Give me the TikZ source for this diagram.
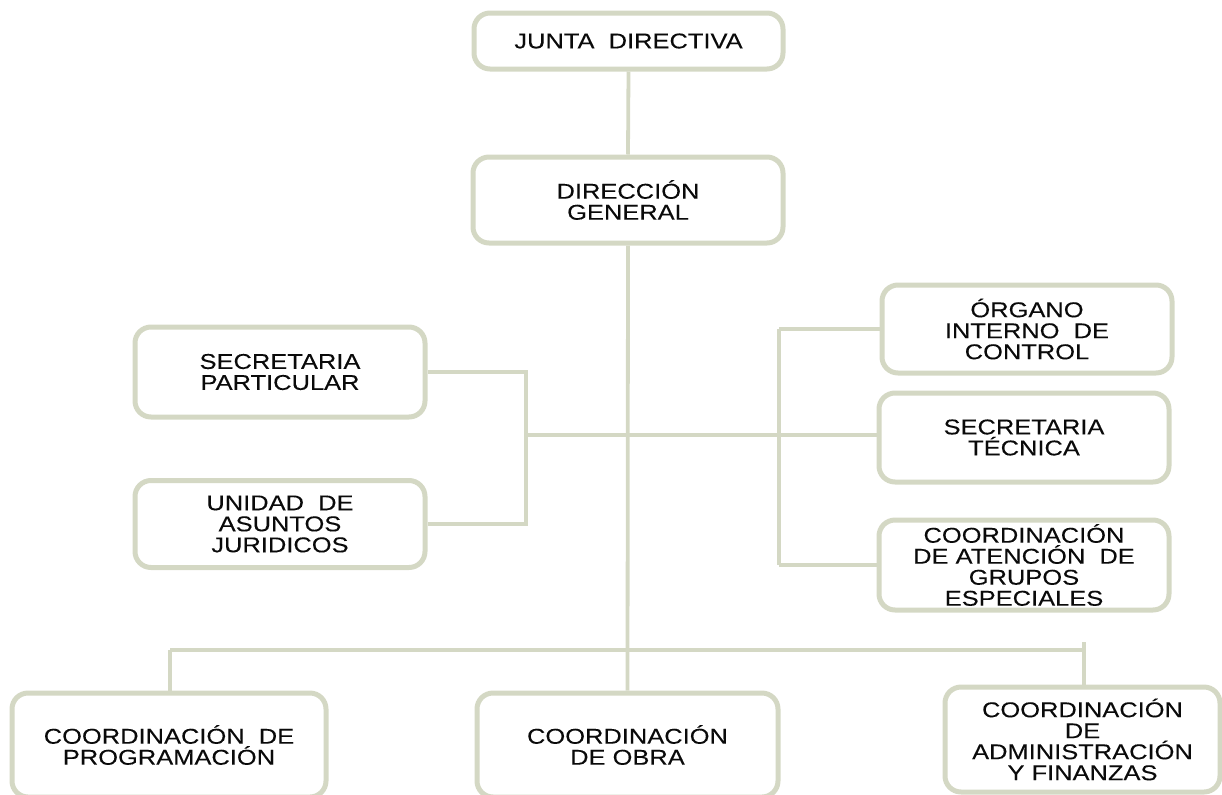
\documentclass[tikz,border=0pt]{standalone}
\usepackage{fontspec}
\setmainfont{Liberation Sans}[FakeStretch=1.19, FakeBold=0.12]
\begin{document}
\definecolor{sage}{RGB}{212,216,196}
\definecolor{ink}{RGB}{10,10,10}
\begin{tikzpicture}[x=0.5pt,y=-0.5pt,
  unit/.style={draw=sage, line width=2.5pt, rounded corners=8pt, fill=white,
    align=center, text=ink, inner sep=0pt,
    font=\fontsize{10.7}{10.5}\selectfont},
  link/.style={draw=sage, line width=1.9pt}]
\useasboundingbox (0,0) rectangle (1222,794);
\clip (0,0) rectangle (1222,794);

% top of the chart
\node[unit, minimum width=154.5pt, minimum height=28pt] (junta) at (628.5,41) {JUNTA~ DIRECTIVA};
\node[unit, minimum width=155pt, minimum height=43pt] (dg) at (628,200) {DIRECCIÓN\\GENERAL};

% staff units on the left
\node[unit, minimum width=145pt, minimum height=45pt] (sp) at (280,372) {SECRETARIA\\PARTICULAR};
\node[unit, minimum width=145pt, minimum height=43.5pt] (uaj) at (280,524) {UNIDAD~ DE\\ASUNTOS\\JURIDICOS};

% staff units on the right
\node[unit, minimum width=145pt, minimum height=44pt] (oic) at (1027,329) {ÓRGANO\\INTERNO~ DE\\CONTROL};
\node[unit, minimum width=145pt, minimum height=44.5pt] (st) at (1024,437.5) {SECRETARIA\\TÉCNICA};
\node[unit, minimum width=145pt, minimum height=45pt] (cag) at (1024,565) {COORDINACIÓN\\DE ATENCIÓN~ DE\\GRUPOS\\ESPECIALES};

% line coordinations
\node[unit, minimum width=157pt, minimum height=52pt] (cp) at (169,745) {COORDINACIÓN~ DE\\PROGRAMACIÓN};
\node[unit, minimum width=150.5pt, minimum height=52pt] (co) at (627.5,745) {COORDINACIÓN\\DE OBRA};
\node[unit, minimum width=137.5pt, minimum height=52.5pt] (caf) at (1082.5,739.5) {COORDINACIÓN\\DE\\ADMINISTRACIÓN\\Y FINANZAS};

% bracket joints
\coordinate (lb) at (526,435);
\coordinate (rb) at (779,435);
\coordinate (barL) at (170,650);
\coordinate (barR) at (1084,650);
\coordinate (tick) at (1084,642);

\path[link] (junta.south) -- (dg.north);
\path[link] (dg.south) -- (co.north);
% left bracket
\path[link] (sp.east) -| (uaj.east -| lb) -- (uaj.east);
\path[link] (lb) -- (lb -| st.west);
% right bracket
\path[link] (oic.west -| rb) -- (cag.west -| rb);
\path[link] (oic.west -| rb) -- (oic.west);
\path[link] (cag.west -| rb) -- (cag.west);
% bottom bar
\path[link] (barL) -- (barR);
\path[link] (barL) -- (cp.north -| barL);
\path[link] (tick) -- (caf.north -| tick);
\end{tikzpicture}
\end{document}
